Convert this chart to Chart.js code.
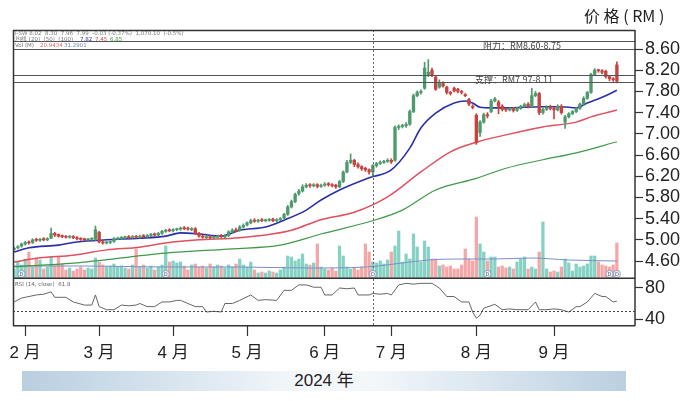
<!DOCTYPE html>
<html>
<head>
<meta charset="utf-8">
<script src="https://cdn.jsdelivr.net/npm/chart.js@4.4.1/dist/chart.umd.min.js"></script>
<style>
  body { margin: 0; background: #fff; width: 690px; height: 401px; position: relative; overflow: hidden; }
  #priceChart { position: absolute; left: 0; top: 0; }
  #rsiChart { position: absolute; left: 0; top: 279px; }
  #unit { position: absolute; left: 584px; top: 3px; font-size: 16px; color: #222; font-family: 'Noto Sans CJK SC', sans-serif; white-space: pre; }
  #year { position: absolute; left: 22px; top: 371px; width: 604px; height: 20px; line-height: 20px; text-align: center;
          font-size: 17px; color: #222; font-family: 'Liberation Sans', 'Noto Sans CJK SC', sans-serif;
          background: linear-gradient(to right, #b9cee0 0%, #d8e5ef 25%, #f6f9fb 48%, #f3f7fa 58%, #d6e3ee 80%, #bacfe0 100%); }
</style>
</head>
<body>
<canvas id="priceChart" width="690" height="279"></canvas>
<canvas id="rsiChart" width="690" height="122"></canvas>
<div id="unit">价 格 ( RM )</div>
<div id="year">2024 年</div>
<script>
// daily candles, index 0 = last days of January 2024
var openP = [
  4.82,4.85,4.88,4.92,4.96,4.95,5.01,4.99,5.02,5.00,
  5.03,5.12,5.10,5.08,5.06,5.05,5.06,5.04,5.03,5.01,
  5.00,5.01,5.01,5.14,4.96,4.94,4.95,4.97,5.01,5.03,
  5.04,5.06,5.04,5.06,5.05,5.08,5.06,5.08,5.11,5.09,
  5.12,5.16,5.19,5.17,5.19,5.20,5.23,5.22,5.19,5.21,
  5.12,5.07,5.04,5.06,5.04,5.05,5.08,5.05,5.08,5.15,
  5.19,5.18,5.24,5.28,5.32,5.37,5.35,5.38,5.36,5.37,
  5.39,5.36,5.38,5.41,5.48,5.62,5.72,5.87,5.92,6.00,
  6.04,6.02,6.04,6.01,6.03,6.06,6.04,6.03,6.00,6.10,
  6.28,6.46,6.50,6.42,6.38,6.35,6.32,6.28,6.40,6.44,
  6.46,6.48,6.50,6.50,7.12,7.14,7.15,7.18,7.42,7.72,
  7.78,7.86,8.12,8.20,8.07,7.88,7.95,7.88,7.78,7.86,
  7.84,7.80,7.74,7.65,7.52,7.35,7.02,7.22,7.36,7.42,
  7.62,7.60,7.52,7.46,7.45,7.47,7.44,7.48,7.52,7.56,
  7.52,7.72,7.76,7.40,7.46,7.51,7.48,7.45,7.52,7.22,
  7.32,7.38,7.42,7.48,7.56,7.67,7.78,8.12,8.20,8.19,
  8.18,8.08,8.04,8.30
];
var highP = [
  4.86,4.89,4.94,4.97,4.98,5.02,5.03,5.03,5.04,5.04,
  5.22,5.14,5.11,5.09,5.08,5.08,5.08,5.06,5.04,5.03,
  5.03,5.04,5.26,5.16,4.98,4.97,4.98,5.04,5.05,5.06,
  5.07,5.08,5.08,5.08,5.09,5.10,5.10,5.12,5.13,5.14,
  5.18,5.20,5.21,5.21,5.22,5.24,5.25,5.24,5.23,5.23,
  5.14,5.09,5.08,5.08,5.07,5.09,5.10,5.10,5.17,5.21,
  5.22,5.27,5.30,5.34,5.39,5.40,5.39,5.40,5.39,5.40,
  5.41,5.40,5.42,5.50,5.65,5.75,5.88,5.95,6.04,6.06,
  6.06,6.06,6.06,6.05,6.08,6.08,6.06,6.05,6.12,6.30,
  6.50,6.62,6.52,6.45,6.40,6.37,6.34,6.42,6.46,6.49,
  6.50,6.53,6.53,7.15,7.17,7.18,7.21,7.45,7.75,7.81,
  7.83,8.35,8.40,8.24,8.10,8.02,7.98,7.90,7.80,7.88,
  7.86,7.82,7.76,7.67,7.55,7.38,7.25,7.39,7.40,7.65,
  7.69,7.63,7.55,7.49,7.49,7.50,7.50,7.54,7.58,7.59,
  7.86,7.80,7.78,7.49,7.53,7.54,7.50,7.55,7.55,7.35,
  7.40,7.44,7.50,7.58,7.70,7.80,8.14,8.23,8.22,8.21,
  8.20,8.10,8.06,8.36
];
var lowP = [
  4.80,4.83,4.86,4.90,4.92,4.93,4.97,4.97,4.98,4.98,
  5.02,5.06,5.05,5.04,5.03,5.03,5.02,5.00,4.99,4.98,
  4.99,4.99,4.99,4.94,4.92,4.92,4.93,4.95,5.00,5.01,
  5.02,5.02,5.02,5.03,5.03,5.04,5.04,5.06,5.07,5.07,
  5.10,5.14,5.15,5.15,5.17,5.18,5.19,5.18,5.17,5.10,
  5.05,5.03,5.02,5.02,5.02,5.03,5.04,5.03,5.06,5.13,
  5.15,5.16,5.22,5.26,5.30,5.33,5.33,5.34,5.34,5.35,
  5.34,5.34,5.36,5.39,5.46,5.60,5.70,5.84,5.90,5.98,
  5.99,6.00,5.98,5.99,6.01,6.01,6.00,5.97,5.98,6.08,
  6.26,6.44,6.38,6.35,6.31,6.29,6.24,6.20,6.37,6.42,
  6.44,6.46,6.44,6.48,7.08,7.11,7.12,7.16,7.40,7.70,
  7.75,7.84,8.08,8.08,7.82,7.86,7.88,7.75,7.73,7.79,
  7.77,7.75,7.70,7.53,7.47,6.80,6.95,7.20,7.30,7.40,
  7.60,7.38,7.43,7.42,7.43,7.41,7.42,7.46,7.50,7.49,
  7.50,7.70,7.36,7.37,7.44,7.45,7.28,7.43,7.37,7.10,
  7.30,7.36,7.40,7.46,7.54,7.65,7.76,8.10,8.16,8.13,
  8.05,8.00,7.99,7.96
];
var closeP = [
  4.84,4.87,4.92,4.95,4.94,5.00,4.99,5.01,5.00,5.02,
  5.12,5.09,5.07,5.06,5.05,5.06,5.04,5.02,5.01,5.00,
  5.01,5.02,5.19,4.96,4.94,4.95,4.96,5.02,5.03,5.04,
  5.05,5.04,5.06,5.05,5.07,5.06,5.08,5.10,5.09,5.12,
  5.16,5.18,5.17,5.19,5.20,5.22,5.21,5.20,5.21,5.12,
  5.07,5.05,5.06,5.04,5.05,5.07,5.06,5.08,5.15,5.18,
  5.17,5.24,5.27,5.32,5.36,5.35,5.37,5.36,5.37,5.38,
  5.36,5.38,5.40,5.48,5.62,5.72,5.86,5.92,6.00,6.03,
  6.02,6.04,6.01,6.03,6.05,6.04,6.02,6.00,6.10,6.28,
  6.46,6.50,6.42,6.38,6.34,6.32,6.28,6.40,6.44,6.46,
  6.48,6.50,6.47,7.12,7.14,7.15,7.18,7.42,7.72,7.78,
  7.80,8.24,8.16,8.11,7.84,7.97,7.90,7.78,7.76,7.81,
  7.80,7.78,7.72,7.56,7.50,6.84,7.22,7.36,7.34,7.62,
  7.66,7.52,7.46,7.45,7.47,7.44,7.48,7.52,7.55,7.52,
  7.72,7.76,7.40,7.46,7.50,7.48,7.45,7.52,7.40,7.32,
  7.38,7.42,7.48,7.56,7.67,7.78,8.12,8.20,8.19,8.16,
  8.08,8.04,8.02,7.99
];
openP[112] = 8.12;
var volume = [
  10,17,14,20,27,12,20,19,10,12,
  22,13,22,15,9,11,8,10,12,9,
  11,10,21,17,14,12,13,15,12,13,
  11,10,14,30,12,14,11,13,9,12,
  14,33,17,18,16,17,13,9,14,15,
  12,13,11,15,12,14,13,11,14,12,
  15,20,14,12,17,9,6,7,6,8,
  7,6,9,12,23,22,18,20,25,15,
  14,16,35,12,10,9,11,8,33,23,
  12,10,11,9,12,35,27,17,16,18,
  15,19,27,33,48,17,25,20,45,32,
  17,38,32,20,20,13,14,12,13,10,
  10,14,30,20,18,62,35,27,18,22,
  22,12,13,11,12,10,17,20,22,10,
  12,10,27,57,10,7,8,7,12,20,
  16,8,15,12,13,15,23,23,17,14,
  13,12,14,36
];

// moving averages: [day index, value]
var ma20 = [[0,4.77],[4,4.85],[12,4.90],[17,4.96],[25,5.00],[34,5.03],[41,5.07],[45,5.13],[50,5.11],[56,5.07],
  [61,5.18],[68,5.24],[73,5.37],[79,5.56],[83,5.75],[88,5.94],[96,6.17],[102,6.32],[107,6.73],[110,7.11],
  [114,7.39],[119,7.58],[122,7.62],[124,7.58],[126,7.50],[129,7.49],[133,7.49],[143,7.51],[148,7.51],[152,7.49],
  [155,7.58],[159,7.69],[163,7.82]];
var ma50 = [[0,4.58],[7,4.66],[16,4.71],[25,4.81],[34,4.86],[41,4.94],[50,5.00],[59,5.03],[68,5.09],[75,5.18],
  [83,5.38],[92,5.52],[101,5.81],[110,6.28],[118,6.66],[125,6.84],[133,6.98],[143,7.13],[152,7.22],[156,7.32],[163,7.45]];
var ma100 = [[0,4.49],[16,4.56],[41,4.75],[59,4.83],[72,4.90],[83,5.11],[96,5.34],[105,5.56],[114,5.94],[125,6.16],
  [133,6.35],[143,6.51],[152,6.64],[163,6.85]];
var volMa = [[0,13],[20,13],[40,12],[60,12],[80,11],[95,12],[105,16],[112,19],[122,20],[130,20],[140,21],[150,19],[163,18]];
var rsi = [[0,62],[2,67],[3,68],[6,71],[8,72],[10,75],[11,68],[14,68],[16,62],[19,58],[21,58],[22,71],[23,56],[25,52],
  [27,52],[29,58],[31,57],[33,58],[34,60],[36,56],[38,56],[40,62],[42,62],[44,64],[45,64],[47,60],[49,56],[51,56],
  [52,49],[54,50],[56,49],[57,60],[59,60],[61,64],[64,71],[66,64],[68,65],[71,64],[73,77],[75,77],[77,84],[79,84],
  [81,81],[83,81],[84,71],[86,71],[88,80],[90,79],[92,80],[93,71],[96,71],[97,73],[99,72],[101,73],[102,71],[104,84],
  [106,86],[108,85],[110,86],[113,86],[115,80],[117,69],[119,69],[121,62],[123,62],[124,49],[125,41],[126,45],[127,54],
  [130,59],[132,52],[134,53],[136,52],[139,52],[141,62],[142,52],[144,52],[146,53],[148,52],[150,49],[152,56],[153,56],
  [155,62],[157,73],[159,69],[160,69],[162,62],[163,63]];

var monthIdx = [3, 23, 43, 63, 84, 102, 125, 146];
var monthLabels = ['2 月', '3 月', '4 月', '5 月', '6 月', '7 月', '8 月', '9 月'];
var priceTicks = [4.6, 5.0, 5.4, 5.8, 6.2, 6.6, 7.0, 7.4, 7.8, 8.2, 8.6];
var rsiTicks = [40, 80];
var resistance = [8.60, 8.75];
var support = [7.97, 8.11];
var cursorIdx = 97;
var markIdx = [2, 41, 97, 128, 161, 163];

var xMin = -0.3, xMax = 167.9;
var upColor = '#4f9a6c', downColor = '#c8423f';
var idx = closeP.map(function (c, i) { return i; });
var candleColors = idx.map(function (i) { return closeP[i] >= openP[i] ? upColor : downColor; });
var volColors = idx.map(function (i) { return closeP[i] >= openP[i] ? 'rgba(112,202,186,0.85)' : 'rgba(242,152,152,0.85)'; });
var axisFont = { family: "'Liberation Sans', 'Noto Sans CJK SC', sans-serif", size: 18 };

function pts(list) { return list.map(function (p) { return { x: p[0], y: p[1] }; }); }

function hline(ctx, x1, x2, y) { ctx.beginPath(); ctx.moveTo(x1, y); ctx.lineTo(x2, y); ctx.stroke(); }
function vline(ctx, x, y1, y2) { ctx.beginPath(); ctx.moveTo(x, y1); ctx.lineTo(x, y2); ctx.stroke(); }

var priceDecor = {
  id: 'priceDecor',
  afterDatasetsDraw: function (chart) {
    var ctx = chart.ctx, a = chart.chartArea, ys = chart.scales.y, xs = chart.scales.x;
    ctx.save();
    // resistance / support lines
    ctx.strokeStyle = '#555';
    ctx.lineWidth = 1.2;
    resistance.concat(support).forEach(function (v) {
      hline(ctx, a.left, a.right, Math.round(ys.getPixelForValue(v)) + 0.5);
    });
    ctx.font = "9px 'Noto Sans CJK SC', sans-serif";
    ctx.fillStyle = '#444';
    ctx.textAlign = 'center';
    ctx.textBaseline = 'middle';
    ctx.fillText('阻力：RM8.60-8.75', 522, (ys.getPixelForValue(8.60) + ys.getPixelForValue(8.75)) / 2 + 1);
    ctx.fillText('支撑：RM7.97-8.11', 514, (ys.getPixelForValue(7.97) + ys.getPixelForValue(8.11)) / 2 + 1);

    // cursor line
    ctx.strokeStyle = '#666';
    ctx.lineWidth = 1;
    ctx.setLineDash([2, 2]);
    vline(ctx, Math.round(xs.getPixelForValue(cursorIdx)) + 0.5, a.top, a.bottom);
    ctx.setLineDash([]);

    // event markers
    markIdx.forEach(function (i) {
      var px = xs.getPixelForValue(i);
      ctx.beginPath();
      ctx.arc(px, 274, 3.6, 0, Math.PI * 2);
      ctx.fillStyle = '#eef3fa';
      ctx.fill();
      ctx.strokeStyle = '#7c93b8';
      ctx.lineWidth = 0.8;
      ctx.stroke();
      ctx.fillStyle = '#556';
      ctx.font = "5px 'DejaVu Sans', sans-serif";
      ctx.fillText('D', px, 274.5);
    });

    // header legend rows
    ctx.textAlign = 'left';
    ctx.font = "5.5px 'DejaVu Sans', sans-serif";
    ctx.fillStyle = '#777';
    ctx.fillText('I-SW 8.02  8.30  7.96  7.99  -0.03 (-0.37%)  1,070.10  (-0.5%)', 15, 34);
    ctx.fillText('均线 (20)  (50)  (100)', 15, 40);
    ctx.fillStyle = '#2b2fa8'; ctx.fillText('7.82', 80, 40);
    ctx.fillStyle = '#d84a56'; ctx.fillText('7.45', 95, 40);
    ctx.fillStyle = '#3f9a4a'; ctx.fillText('6.85', 110, 40);
    ctx.fillStyle = '#777'; ctx.fillText('Vol (M)', 15, 46);
    ctx.fillStyle = '#d86a6a'; ctx.fillText('20.9434', 40, 46);
    ctx.fillStyle = '#6a7fc0'; ctx.fillText('31.2901', 64, 46);

    // frame
    ctx.strokeStyle = '#333';
    ctx.lineWidth = 1.5;
    hline(ctx, a.left, a.right, a.top + 0.5);
    hline(ctx, a.left, a.right, a.bottom - 0.75);
    vline(ctx, a.left + 0.5, a.top, a.bottom);
    vline(ctx, a.right, a.top, a.bottom);
    ctx.restore();
  }
};

var rsiDecor = {
  id: 'rsiDecor',
  afterDatasetsDraw: function (chart) {
    var ctx = chart.ctx, a = chart.chartArea, ys = chart.scales.y, xs = chart.scales.x;
    ctx.save();
    ctx.strokeStyle = '#444';
    ctx.lineWidth = 1;
    ctx.setLineDash([2, 2]);
    hline(ctx, a.left, a.right, Math.round(ys.getPixelForValue(50)) + 0.5);
    ctx.strokeStyle = '#666';
    vline(ctx, Math.round(xs.getPixelForValue(cursorIdx)) + 0.5, a.top, a.bottom);
    ctx.setLineDash([]);
    ctx.font = "5.5px 'DejaVu Sans', sans-serif";
    ctx.fillStyle = '#666';
    ctx.textBaseline = 'middle';
    ctx.fillText('RSI (14, close)  61.8', 15, 6);
    ctx.strokeStyle = '#333';
    ctx.lineWidth = 1.5;
    vline(ctx, a.left + 0.5, a.top, a.bottom);
    vline(ctx, a.right, a.top, a.bottom);
    hline(ctx, a.left, a.right, a.bottom - 0.25);
    ctx.restore();
  }
};

new Chart(document.getElementById('priceChart'), {
  type: 'bar',
  data: {
    datasets: [
      { type: 'line', data: pts(ma20), borderColor: '#2b2fa8', borderWidth: 1.6, pointRadius: 0, cubicInterpolationMode: 'monotone', order: 3 },
      { type: 'line', data: pts(ma50), borderColor: '#e0505e', borderWidth: 1.5, pointRadius: 0, cubicInterpolationMode: 'monotone', order: 3 },
      { type: 'line', data: pts(ma100), borderColor: '#3f9a4a', borderWidth: 1.2, pointRadius: 0, cubicInterpolationMode: 'monotone', order: 3 },
      { type: 'line', yAxisID: 'yv', data: pts(volMa), borderColor: '#7b8fc8', borderWidth: 1, pointRadius: 0, cubicInterpolationMode: 'monotone', order: 5 },
      { data: idx.map(function (i) { return { x: i, y: [lowP[i], highP[i]] }; }), backgroundColor: candleColors, barThickness: 1, grouped: false, order: 2 },
      { data: idx.map(function (i) { return { x: i, y: [openP[i], closeP[i]] }; }), backgroundColor: candleColors, barThickness: 2.7, minBarLength: 1, grouped: false, order: 1 },
      { yAxisID: 'yv', data: idx.map(function (i) { return { x: i, y: volume[i] }; }), backgroundColor: volColors, barThickness: 2.6, grouped: false, order: 6 }
    ]
  },
  options: {
    responsive: false,
    animation: false,
    layout: { padding: { left: 13, top: 30, right: 0, bottom: 0 } },
    plugins: { legend: { display: false }, tooltip: { enabled: false } },
    scales: {
      x: { type: 'linear', display: false, min: xMin, max: xMax, offset: false, grid: { offset: false } },
      y: {
        position: 'right', min: 4.2605, max: 8.9585,
        afterBuildTicks: function (s) { s.ticks = priceTicks.map(function (v) { return { value: v }; }); },
        afterFit: function (s) { s.width = 55; s.paddingTop = 0; s.paddingBottom = 0; },
        ticks: { callback: function (v) { return Number(v).toFixed(2); }, font: axisFont, color: '#222', padding: 2 },
        grid: { drawOnChartArea: false, tickLength: 8, tickColor: '#333', tickWidth: 1.2 },
        border: { display: false }
      },
      yv: { display: false, min: 0, max: 249 }
    }
  },
  plugins: [priceDecor]
});

new Chart(document.getElementById('rsiChart'), {
  type: 'line',
  data: {
    datasets: [{ data: pts(rsi), borderColor: '#555', borderWidth: 0.9, pointRadius: 0, tension: 0 }]
  },
  options: {
    responsive: false,
    animation: false,
    layout: { padding: { left: 13, top: 0, right: 0, bottom: 0 } },
    plugins: { legend: { display: false }, tooltip: { enabled: false } },
    scales: {
      x: {
        type: 'linear', min: xMin, max: xMax,
        afterBuildTicks: function (s) { s.ticks = monthIdx.map(function (v) { return { value: v }; }); },
        afterFit: function (s) { s.height = 75; s.paddingLeft = 0; s.paddingRight = 0; },
        ticks: { autoSkip: false, maxRotation: 0, callback: function (v, i) { return monthLabels[i]; },
                 font: { family: axisFont.family, size: 17 }, color: '#222', padding: 7 },
        grid: { drawOnChartArea: false, tickLength: 10, tickColor: '#333', tickWidth: 1.2 },
        border: { display: false }
      },
      y: {
        position: 'right', min: 31, max: 91.6,
        afterBuildTicks: function (s) { s.ticks = rsiTicks.map(function (v) { return { value: v }; }); },
        afterFit: function (s) { s.width = 55; s.paddingTop = 0; s.paddingBottom = 0; },
        ticks: { callback: function (v) { return String(v); }, font: axisFont, color: '#222', padding: 2 },
        grid: { drawOnChartArea: false, tickLength: 8, tickColor: '#333', tickWidth: 1.2 },
        border: { display: false }
      }
    }
  },
  plugins: [rsiDecor]
});
</script>
</body>
</html>
